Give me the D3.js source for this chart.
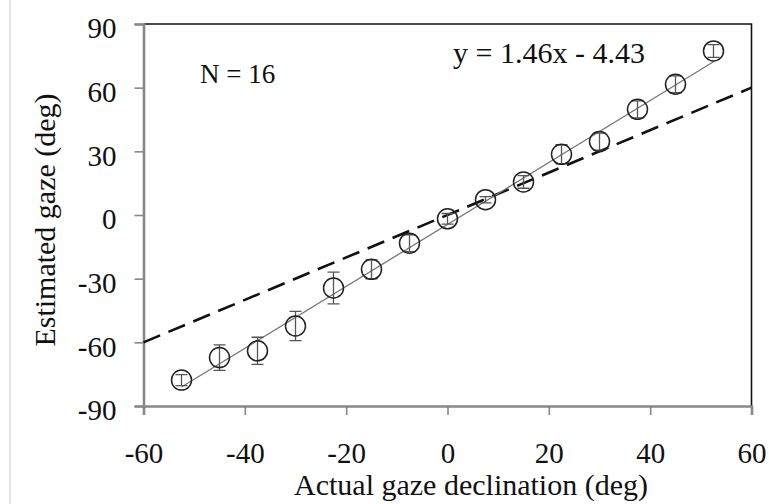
<!DOCTYPE html>
<html lang="en">
<head>
    <meta charset="UTF-8">
    <title>Gaze estimate</title>
    <script src="https://d3js.org/d3.v7.min.js"></script>
    <style>
        body { margin: 0; background: white; }
        svg text { font-family: "Liberation Serif", "Times New Roman", Times, "DejaVu Serif", serif !important; fill: #111; }
    </style>
</head>
<body>
    <svg id="svg1" width="769" height="504" style="background:white;"></svg>

    <script>
        // data ---------------------------------------------------------------
        const actualDeg = [-52.5, -45, -37.5, -30, -22.5, -15, -7.5, 0, 7.5, 15, 22.5, 30, 37.5, 45, 52.5];
        const estimatedDeg = [-77.8, -67.2, -64, -52.3, -34.4, -25.6, -13.3, -1.8, 7.2, 15.6, 28.6, 34.6, 49.8, 61.6, 77.3];
        const errorDeg = [2.6, 6, 6.4, 6.9, 7.5, 4.5, 4, 2.5, 1.5, 3, 4.5, 4, 4, 4, 3];
        const xTicks = [-60, -40, -20, 0, 20, 40, 60];
        const yTicks = [-90, -60, -30, 0, 30, 60, 90];
        const fitSlope = 1.46, fitIntercept = -4.43;
        const fitRange = [-52.5, 52.5];
        const identityRange = [-60, 60];

        // svg config ---------------------------------------------------------
        const svg1 = d3.select("svg#svg1");
        const margin = {left: 143.5, right: 17.5, top: 24, bottom: 98};
        const width = +svg1.attr("width"), height = +svg1.attr("height");

        const xScale = d3.scaleLinear().domain([-60, 60]).range([margin.left, width - margin.right]);
        const yScale = d3.scaleLinear().domain([-90, 90]).range([height - margin.bottom, margin.top]);

        // faint page edge on the left
        svg1.append("line")
            .attr("x1", 10).attr("x2", 10).attr("y1", 0).attr("y2", height)
            .attr("stroke", "#d4d4d4").attr("stroke-width", 1.2);

        // frame: black top/right
        svg1.append("path")
            .attr("d", `M${xScale(-60)},${yScale(90)}H${xScale(60)}V${yScale(-90)}`)
            .attr("fill", "none").attr("stroke", "#111").attr("stroke-width", 1.6);

        // axes (gray)
        const axisColor = "#888";
        const xAxis = svg1.append("g")
            .attr("transform", `translate(0,${yScale(-90)})`)
            .call(d3.axisBottom(xScale).tickValues(xTicks).tickSize(9).tickPadding(27).tickFormat(d3.format("d")));
        const yAxis = svg1.append("g")
            .attr("transform", `translate(${xScale(-60)},0)`)
            .call(d3.axisLeft(yScale).tickValues(yTicks).tickSize(9).tickPadding(18).tickFormat(d3.format("d")));

        [xAxis, yAxis].forEach(g => {
            g.attr("font-family", null).attr("font-size", null);
            g.select(".domain").attr("stroke", axisColor).attr("stroke-width", 2.6);
            g.selectAll(".tick line").attr("stroke", axisColor).attr("stroke-width", 1.6);
            g.selectAll(".tick text").attr("font-size", 29).attr("fill", "#111");
        });
        // hyphen signs like the original
        svg1.selectAll(".tick text").text(d => String(d));
        yAxis.selectAll(".tick text").attr("dy", "0.48em");

        // identity line (dashed)
        svg1.append("line")
            .attr("x1", xScale(identityRange[0])).attr("y1", yScale(identityRange[0]))
            .attr("x2", xScale(identityRange[1])).attr("y2", yScale(identityRange[1]))
            .attr("stroke", "#111").attr("stroke-width", 2.6)
            .attr("stroke-dasharray", "18,9");

        // regression line
        const fitLine = d3.line()
            .x(d => xScale(d))
            .y(d => yScale(fitSlope * d + fitIntercept));
        svg1.append("path")
            .attr("d", fitLine(fitRange))
            .attr("fill", "none").attr("stroke", "#777").attr("stroke-width", 1.3);

        // error bars + circles
        const pts = actualDeg.map((x, i) => ({x: x, y: estimatedDeg[i], e: errorDeg[i]}));
        const pg = svg1.append("g").selectAll("g").data(pts).join("g");
        const capW = 6;
        pg.append("path")
            .attr("d", d => {
                const cx = xScale(d.x), y0 = yScale(d.y - d.e), y1 = yScale(d.y + d.e);
                return `M${cx},${y0}V${y1}M${cx - capW},${y0}H${cx + capW}M${cx - capW},${y1}H${cx + capW}`;
            })
            .attr("fill", "none").attr("stroke", "#555").attr("stroke-width", 1.3);
        pg.append("circle")
            .attr("cx", d => xScale(d.x)).attr("cy", d => yScale(d.y))
            .attr("r", 10)
            .attr("fill", "none").attr("stroke", "#222").attr("stroke-width", 1.5);

        // annotations
        svg1.append("text").attr("x", 200).attr("y", 83)
            .attr("font-size", 27).text("N = 16");
        svg1.append("text").attr("x", 453).attr("y", 63)
            .attr("font-size", 30).text("y = 1.46x - 4.43");

        // axis titles
        svg1.append("text")
            .attr("x", 471).attr("y", 495)
            .attr("text-anchor", "middle").attr("font-size", 30)
            .text("Actual gaze declination (deg)");
        svg1.append("text")
            .attr("transform", "translate(55,220) rotate(-90)")
            .attr("text-anchor", "middle").attr("font-size", 30)
            .text("Estimated gaze (deg)");
    </script>
</body>
</html>
